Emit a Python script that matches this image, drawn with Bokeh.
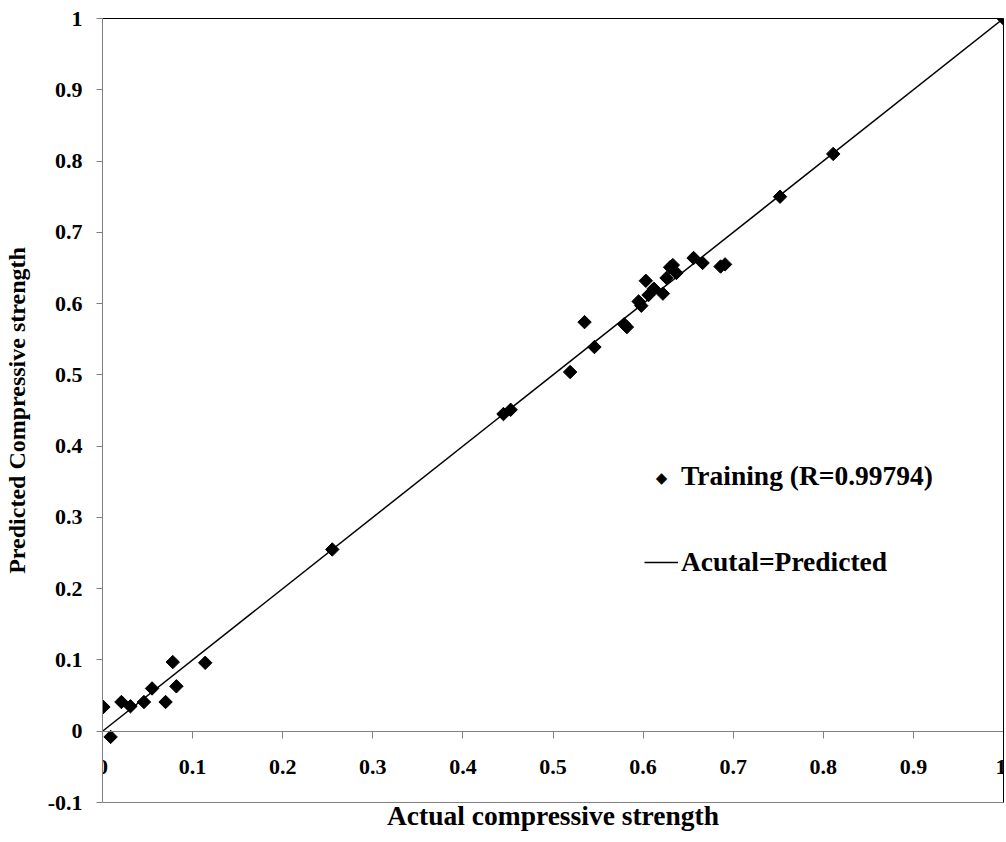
import math
from bokeh.plotting import figure
from bokeh.models import LinearAxis, FixedTicker, Legend, LegendItem, Label
from bokeh.embed import file_html
from bokeh.resources import INLINE

# ---- data ----
actual = [0.001, 0.009, 0.021, 0.031, 0.046, 0.055, 0.070, 0.078, 0.082, 0.114,
          0.255, 0.445, 0.453,
          0.519, 0.535, 0.546, 0.579, 0.582, 0.595, 0.598, 0.603, 0.606, 0.612,
          0.622, 0.626, 0.630, 0.633, 0.637, 0.656, 0.666, 0.686, 0.691,
          0.752, 0.811, 1.000]
predicted = [0.034, -0.008, 0.041, 0.035, 0.041, 0.060, 0.041, 0.097, 0.063, 0.096,
             0.255, 0.445, 0.451,
             0.504, 0.574, 0.539, 0.571, 0.567, 0.603, 0.597, 0.632, 0.612, 0.621,
             0.614, 0.636, 0.651, 0.654, 0.643, 0.664, 0.657, 0.652, 0.655,
             0.750, 0.810, 1.000]
line_x = [0.0, 1.0]
line_y = [0.0, 1.0]

x_ticks = [0.0, 0.1, 0.2, 0.3, 0.4, 0.5, 0.6, 0.7, 0.8, 0.9, 1.0]
x_tick_labels = ["0", "0.1", "0.2", "0.3", "0.4", "0.5", "0.6", "0.7", "0.8", "0.9", "1"]
y_ticks = [-0.1, 0.0, 0.1, 0.2, 0.3, 0.4, 0.5, 0.6, 0.7, 0.8, 0.9, 1.0]
y_tick_labels = ["-0.1", "0", "0.1", "0.2", "0.3", "0.4", "0.5", "0.6", "0.7", "0.8", "0.9", "1"]

series_label = "Training (R=0.99794)"
line_label = "Acutal=Predicted"
x_title = "Actual compressive strength"
y_title = "Predicted Compressive strength"

FONT = "Liberation Serif"
GRAY = "#808080"

p = figure(width=1006, height=842, x_range=(0, 1), y_range=(-0.1, 1),
           output_backend="svg", toolbar_location=None,
           x_axis_location=None, y_axis_location=None,
           min_border_left=102, min_border_right=3, min_border_top=18, min_border_bottom=40)
p.outline_line_color = None
p.background_fill_color = "white"
p.border_fill_color = "white"
p.grid.visible = False

# left axis (at x=0)
yax = LinearAxis(ticker=FixedTicker(ticks=y_ticks),
                 major_label_overrides={t: l for t, l in zip(y_ticks, y_tick_labels)})
yax.axis_line_color = GRAY
yax.major_tick_line_color = GRAY
yax.minor_tick_line_color = None
yax.major_tick_out = 6
yax.major_tick_in = 0
yax.major_label_standoff = 14
yax.major_label_text_font = FONT
yax.major_label_text_font_size = "22px"
yax.major_label_text_font_style = "bold"
yax.major_label_text_color = "black"
yax.axis_label = y_title
yax.axis_label_text_font = FONT
yax.axis_label_text_font_size = "24px"
yax.axis_label_text_font_style = "bold"
yax.axis_label_text_color = "black"
yax.axis_label_standoff = 15
p.add_layout(yax, "left")

# x axis crossing at y=0
xax = LinearAxis(ticker=FixedTicker(ticks=x_ticks), fixed_location=0,
                 major_label_overrides={t: l for t, l in zip(x_ticks, x_tick_labels)})
xax.axis_line_color = GRAY
xax.major_tick_line_color = GRAY
xax.minor_tick_line_color = None
xax.major_tick_out = 7
xax.major_tick_in = 0
xax.major_label_standoff = 22
xax.major_label_text_font = FONT
xax.major_label_text_font_size = "22px"
xax.major_label_text_font_style = "bold"
xax.major_label_text_color = "black"
p.add_layout(xax, "below")

# bottom border with the x title
bax = LinearAxis(ticker=FixedTicker(ticks=[]))
bax.axis_line_color = GRAY
bax.major_tick_out = 0
bax.major_tick_in = 0
bax.major_label_standoff = 0
bax.axis_label = x_title
bax.axis_label_text_font = FONT
bax.axis_label_text_font_size = "27.5px"
bax.axis_label_text_font_style = "bold"
bax.axis_label_text_color = "black"
bax.axis_label_standoff = -3
p.add_layout(bax, "below")

# top and right borders
for side in ("above", "right"):
    ax = LinearAxis(ticker=FixedTicker(ticks=[]))
    ax.axis_line_color = "black"
    ax.major_tick_out = 0
    ax.major_tick_in = 0
    ax.major_label_standoff = 0
    p.add_layout(ax, side)

ln = p.line(line_x, line_y, line_color="black", line_width=1.5)
sc = p.scatter(actual, predicted, marker="square", angle=math.pi / 4, size=9.5,
               fill_color="black", line_color="black")
# invisible stand-in for the legend's diamond (the legend ignores marker angle)
legend_stub = p.scatter(x=[], y=[], marker="square", fill_alpha=0, line_alpha=0)

legend = Legend(items=[LegendItem(label=series_label, renderers=[legend_stub]),
                       LegendItem(label=line_label, renderers=[ln])],
                location=(542, 224))
legend.background_fill_alpha = 0
legend.border_line_color = None
legend.padding = 0
legend.margin = 0
legend.glyph_width = 34
legend.glyph_height = 18
legend.label_height = 31
legend.spacing = 54
legend.label_standoff = 3
legend.label_text_font = FONT
legend.label_text_font_size = "27.5px"
legend.label_text_font_style = "bold"
legend.label_text_color = "black"
p.add_layout(legend, "center")

# the legend's diamond symbol, in screen units inside the legend's glyph box
p.add_layout(Label(x=542 + 17, y=224 + 116 - 15.5, x_units="screen", y_units="screen",
                   text="\u25c6", text_font="DejaVu Sans", text_font_size="15px",
                   text_align="center", text_baseline="middle", text_color="black"))

open("out.html", "w").write(file_html(p, INLINE))
